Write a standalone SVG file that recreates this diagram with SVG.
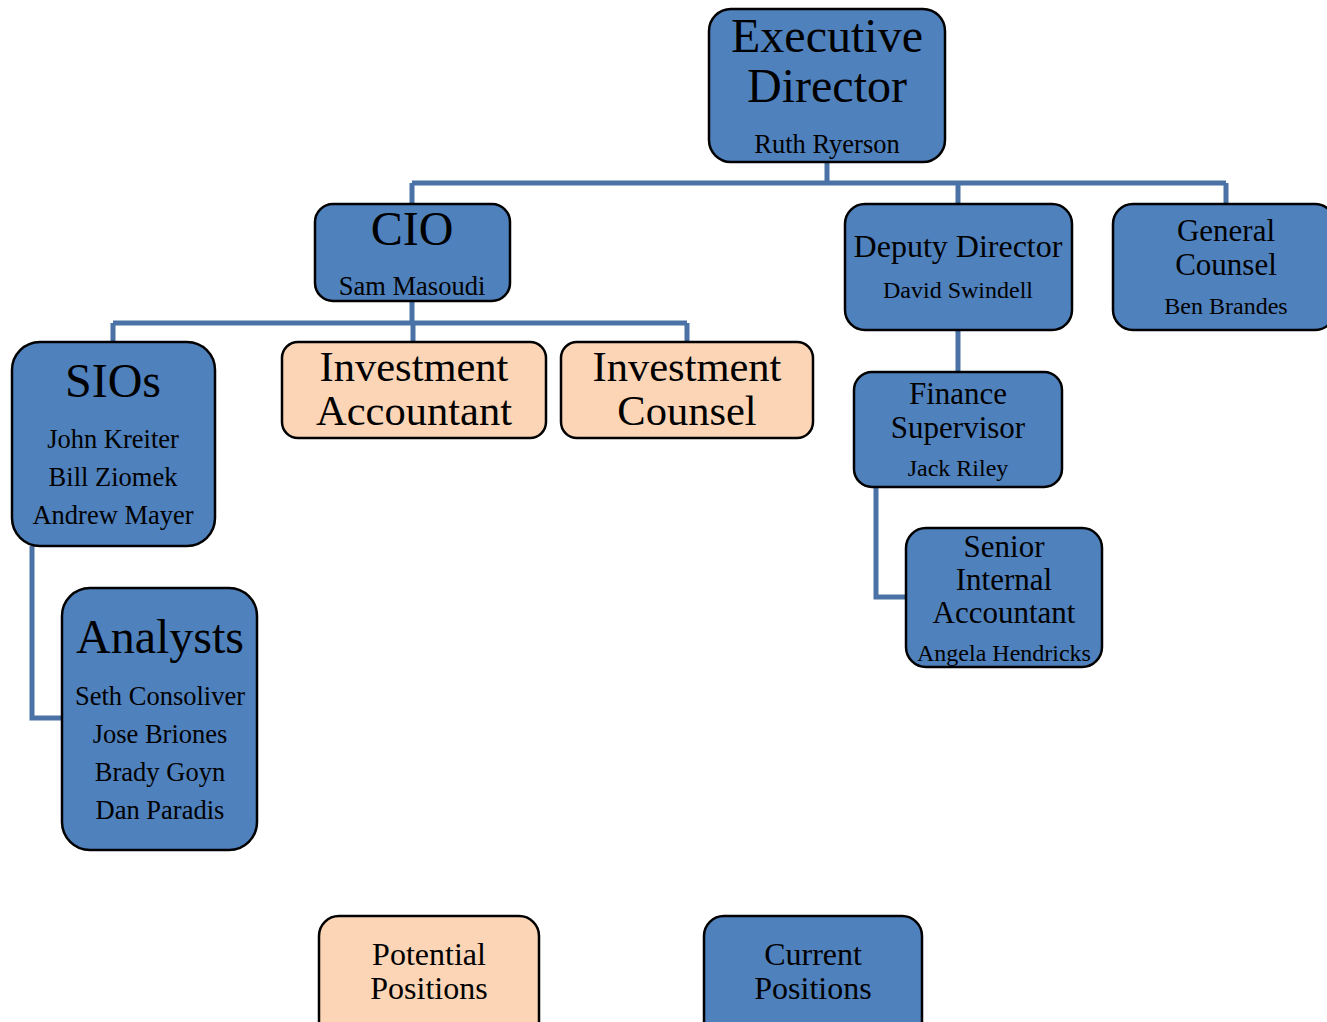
<svg xmlns="http://www.w3.org/2000/svg" width="1327" height="1022" viewBox="0 0 1327 1022">
<style>
.cur{fill:#4F81BD;stroke:#000;stroke-width:2.5}
.pot{fill:#FBD5B5;stroke:#000;stroke-width:2.5}
text{font-family:"Liberation Serif","Times New Roman",serif;fill:#000;text-anchor:middle}
.c{fill:none;stroke:#4A72A6;stroke-width:5}
.big{font-size:48px}
.mid{font-size:32px}
.mid2{font-size:31px}
.inv{font-size:42.5px}
.nm{font-size:26.5px}
.sm{font-size:24px}
</style>
<rect width="1327" height="1022" fill="#fff"/>
<g id="connectors">
<path class="c" d="M827 162V183M412 183H1226M412 183V204M958 183V204M1226 183V204"/>
<path class="c" d="M412 301V323M113 323H687M113 323V342M413 323V342M687 323V342"/>
<path class="c" d="M32 546V718H62"/>
<path class="c" d="M958 330V372"/>
<path class="c" d="M876 487V597H906"/>
</g>
<g id="exec"><rect class="cur" x="709" y="9" width="236" height="153" rx="22"/>
<text x="827" y="52" class="big">Executive</text><text x="827" y="102" class="big">Director</text><text x="827" y="153" class="nm">Ruth Ryerson</text></g>
<g id="cio"><rect class="cur" x="315" y="204" width="195" height="97" rx="18"/>
<text x="412" y="245" class="big">CIO</text><text x="412" y="295" class="nm">Sam Masoudi</text></g>
<g id="deputy"><rect class="cur" x="845" y="204" width="227" height="126" rx="20"/>
<text x="958" y="257" class="mid">Deputy Director</text><text x="958" y="298" class="sm">David Swindell</text></g>
<g id="counsel"><rect class="cur" x="1113" y="204" width="222" height="126" rx="20"/>
<text x="1226" y="241" class="mid2">General</text><text x="1226" y="275" class="mid2">Counsel</text><text x="1226" y="314" class="sm">Ben Brandes</text></g>
<g id="sios"><rect class="cur" x="12" y="342" width="203" height="204" rx="28"/>
<text x="113" y="397" class="big">SIOs</text><text x="113" y="448" class="nm">John Kreiter</text><text x="113" y="486" class="nm">Bill Ziomek</text><text x="113" y="524" class="nm">Andrew Mayer</text></g>
<g id="invacct"><rect class="pot" x="282" y="342" width="264" height="96" rx="16"/>
<text x="414" y="381" class="inv">Investment</text><text x="414" y="425" class="inv">Accountant</text></g>
<g id="invcounsel"><rect class="pot" x="561" y="342" width="252" height="96" rx="16"/>
<text x="687" y="381" class="inv">Investment</text><text x="687" y="425" class="inv">Counsel</text></g>
<g id="analysts"><rect class="cur" x="62" y="588" width="195" height="262" rx="28"/>
<text x="160" y="653" class="big">Analysts</text><text x="160" y="705" class="nm">Seth Consoliver</text><text x="160" y="743" class="nm">Jose Briones</text><text x="160" y="781" class="nm">Brady Goyn</text><text x="160" y="819" class="nm">Dan Paradis</text></g>
<g id="finance"><rect class="cur" x="854" y="372" width="208" height="115" rx="18"/>
<text x="958" y="404" class="mid2">Finance</text><text x="958" y="438" class="mid2">Supervisor</text><text x="958" y="476" class="sm">Jack Riley</text></g>
<g id="senior"><rect class="cur" x="906" y="528" width="196" height="139" rx="20"/>
<text x="1004" y="557" class="mid2">Senior</text><text x="1004" y="590" class="mid2">Internal</text><text x="1004" y="623" class="mid2">Accountant</text><text x="1004" y="661" class="sm">Angela Hendricks</text></g>
<g id="legend-potential"><rect class="pot" x="319" y="916" width="220" height="130" rx="20"/>
<text x="429" y="965" class="mid">Potential</text><text x="429" y="999" class="mid">Positions</text></g>
<g id="legend-current"><rect class="cur" x="704" y="916" width="218" height="130" rx="20"/>
<text x="813" y="965" class="mid">Current</text><text x="813" y="999" class="mid">Positions</text></g>
</svg>
